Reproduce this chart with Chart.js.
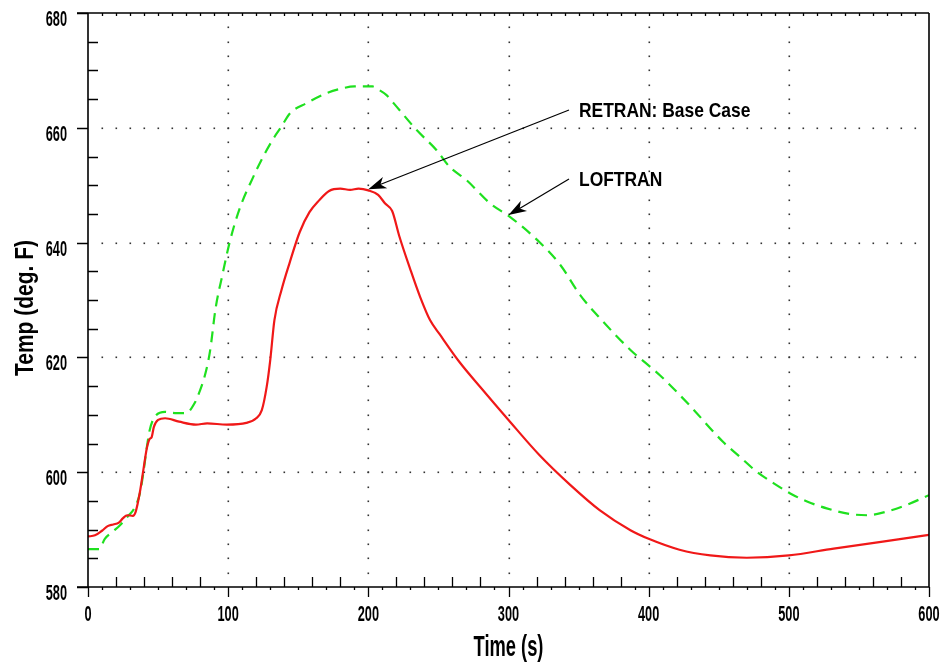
<!DOCTYPE html>
<html lang="en">
<head>
    <meta charset="UTF-8">
    <title>Temp vs Time - RETRAN / LOFTRAN</title>
    <script src="https://cdn.jsdelivr.net/npm/chart.js@4.4.0/dist/chart.umd.min.js"></script>
    <style>
        html, body { margin: 0; padding: 0; background: #fff; }
        #wrap { position: relative; width: 945px; height: 671px; }
    </style>
</head>
<body>
    <div id="wrap"><canvas id="tempChart"></canvas></div>

    <script>
        // Curve data (time in s, temperature in deg F)
        const retranTime = [0, 5, 10, 14, 18, 22, 25, 28, 32, 34, 37, 39.5, 42, 44, 45.4, 47, 50, 55, 65, 77, 85, 99, 113, 120, 124, 127.5, 130, 133, 138, 144, 151, 158, 165, 172, 180, 187, 193, 200, 207, 212, 217, 222, 230, 237, 244, 251, 265, 280, 300, 322, 344, 365, 387, 400, 422, 444, 470, 500, 532, 567, 600];
        const retranTemp = [588.8, 589.0, 589.8, 590.6, 590.9, 591.2, 592.0, 592.5, 592.4, 593.1, 596.5, 600.4, 604.2, 605.8, 606.1, 607.9, 609.1, 609.4, 608.8, 608.3, 608.5, 608.3, 608.6, 609.4, 610.8, 614.9, 619.5, 626.5, 631.7, 636.6, 641.8, 645.3, 647.4, 649.0, 649.4, 649.2, 649.4, 649.1, 648.3, 646.8, 645.5, 641.2, 635.3, 630.5, 626.5, 624.0, 619.2, 614.8, 609.1, 603.0, 597.8, 593.4, 589.9, 588.4, 586.5, 585.5, 585.1, 585.5, 586.7, 587.9, 589.1];

        const loftranTime = [0, 8, 12, 18, 23, 28, 33, 37, 39.5, 42, 44, 47, 55, 62, 70, 76, 80, 83, 87, 91, 96, 101, 108, 118, 125, 133, 138, 144, 156, 170, 182, 190, 203, 207, 213, 218, 234.5, 248.7, 258, 270, 287, 301, 322, 337, 351, 365, 387, 408, 429, 453, 465, 477, 489, 501, 513, 527, 544, 556, 572, 584, 600];
        const loftranTemp = [586.6, 586.6, 588.4, 589.7, 590.8, 592.2, 593.7, 596.3, 599.9, 604.4, 607.3, 609.4, 610.5, 610.3, 610.3, 612.0, 614.3, 616.5, 621.0, 628.5, 634.5, 640.0, 645.8, 651.5, 655.0, 658.4, 660.2, 662.5, 664.3, 666.0, 666.9, 667.2, 667.2, 666.7, 665.7, 664.3, 659.6, 656.1, 653.2, 650.9, 646.8, 644.5, 640.1, 636.1, 630.9, 626.9, 621.3, 616.9, 611.7, 605.3, 602.7, 600.1, 598.1, 596.3, 594.9, 593.7, 592.7, 592.5, 593.3, 594.3, 596.0];

        // Axis ticks
        const xTicks = [0, 100, 200, 300, 400, 500, 600];
        const yTicks = [580, 600, 620, 640, 660, 680];

        // Annotations: label text and the point each arrow lands on
        const notes = [
            { text: 'RETRAN: Base Case', at: [200, 649.3], labelY: 117 },
            { text: 'LOFTRAN', at: [300, 644.8], labelY: 186 }
        ];

        const toPoints = (xs, ys) => xs.map((x, i) => ({ x: x, y: ys[i] }));

        function drawText(ctx, txt, x, y, size, squeeze, align) {
            ctx.save();
            ctx.translate(x, y);
            ctx.scale(squeeze, 1);
            ctx.font = 'bold ' + size + 'px "Liberation Sans", Arial, sans-serif';
            ctx.textAlign = align;
            ctx.textBaseline = 'alphabetic';
            ctx.fillStyle = '#000';
            ctx.fillText(txt, 0, 0);
            ctx.restore();
        }

        function arrow(ctx, x0, y0, x1, y1) {
            const ang = Math.atan2(y1 - y0, x1 - x0);
            const len = 18, half = 6;
            ctx.save();
            ctx.strokeStyle = '#000';
            ctx.fillStyle = '#000';
            ctx.lineWidth = 1.2;
            ctx.beginPath();
            ctx.moveTo(x0, y0);
            ctx.lineTo(x1 - Math.cos(ang) * 10, y1 - Math.sin(ang) * 10);
            ctx.stroke();
            ctx.translate(x1, y1);
            ctx.rotate(ang);
            ctx.beginPath();
            ctx.moveTo(0, 0);
            ctx.lineTo(-len, -half);
            ctx.lineTo(-len + 5, 0);
            ctx.lineTo(-len, half);
            ctx.closePath();
            ctx.fill();
            ctx.restore();
        }

        // Dotted grid under the curves
        const gridPlugin = {
            id: 'dotGrid',
            beforeDatasetsDraw(chart) {
                const { ctx, scales: { x, y } } = chart;
                ctx.save();
                ctx.fillStyle = '#333';
                for (let i = 1; i < xTicks.length - 1; i++) {
                    const px = Math.round(x.getPixelForValue(xTicks[i]));
                    for (let v = 582.5; v < 680; v += 2.5) {
                        ctx.fillRect(px - 0.5, Math.round(y.getPixelForValue(v)) - 0.5, 1.6, 1.6);
                    }
                }
                for (let j = 1; j < yTicks.length - 1; j++) {
                    const py = Math.round(y.getPixelForValue(yTicks[j]));
                    for (let t = 10; t < 600; t += 10) {
                        ctx.fillRect(Math.round(x.getPixelForValue(t)) - 0.5, py - 0.5, 1.6, 1.6);
                    }
                }
                ctx.restore();
            }
        };

        // Frame, ticks, labels, titles and annotations on top
        const framePlugin = {
            id: 'frame',
            afterDraw(chart) {
                const { ctx, chartArea: a, scales: { x, y } } = chart;
                ctx.save();
                ctx.strokeStyle = '#000';
                ctx.lineWidth = 1.6;
                ctx.beginPath();
                ctx.moveTo(a.left - 11, a.top); ctx.lineTo(a.right, a.top);
                ctx.moveTo(a.left - 11, a.bottom); ctx.lineTo(a.right, a.bottom);
                ctx.moveTo(a.left, a.top); ctx.lineTo(a.left, a.bottom);
                ctx.moveTo(a.right, a.top); ctx.lineTo(a.right, a.bottom);
                ctx.stroke();

                // y ticks: major outward, minor inward every 5
                ctx.lineWidth = 1.3;
                ctx.beginPath();
                for (let v = 580; v <= 680; v += 5) {
                    const py = Math.round(y.getPixelForValue(v)) + 0.5;
                    if (v % 20 === 0) { ctx.moveTo(a.left - 11, py); ctx.lineTo(a.left, py); }
                    else { ctx.moveTo(a.left, py); ctx.lineTo(a.left + 10, py); }
                }
                // x ticks: major downward, minor up every 20, small every 10
                for (let t = 0; t <= 600; t += 10) {
                    const px = Math.round(x.getPixelForValue(t)) + 0.5;
                    if (t % 100 === 0) { ctx.moveTo(px, a.bottom); ctx.lineTo(px, a.bottom + 10); }
                    else if (t % 20 === 0) { ctx.moveTo(px, a.bottom); ctx.lineTo(px, a.bottom - 10); }
                    else { ctx.moveTo(px, a.bottom); ctx.lineTo(px, a.bottom + 3); }
                    if (t > 0 && t < 600) { ctx.moveTo(px, a.top); ctx.lineTo(px, a.top + 3); }
                }
                ctx.stroke();
                ctx.restore();

                yTicks.forEach(v => drawText(ctx, String(v), a.left - 21, y.getPixelForValue(v) + 13, 22, 0.58, 'right'));
                xTicks.forEach(t => drawText(ctx, String(t), x.getPixelForValue(t), a.bottom + 34, 22, 0.58, 'center'));

                drawText(ctx, 'Time (s)', (a.left + a.right) / 2, a.bottom + 69, 30, 0.61, 'center');
                ctx.save();
                ctx.translate(33, 308);
                ctx.rotate(-Math.PI / 2);
                drawText(ctx, 'Temp (deg. F)', 0, 0, 25, 0.84, 'center');
                ctx.restore();

                notes.forEach(n => {
                    drawText(ctx, n.text, 579, n.labelY, 21, 0.83, 'left');
                    arrow(ctx, 569, n.labelY - 7, x.getPixelForValue(n.at[0]), y.getPixelForValue(n.at[1]));
                });
            }
        };

        new Chart(document.getElementById('tempChart'), {
            type: 'line',
            data: {
                datasets: [
                    {
                        label: 'RETRAN: Base Case',
                        data: toPoints(retranTime, retranTemp),
                        borderColor: '#f01818',
                        borderWidth: 2.2,
                        pointRadius: 0,
                        cubicInterpolationMode: 'monotone'
                    },
                    {
                        label: 'LOFTRAN',
                        data: toPoints(loftranTime, loftranTemp),
                        borderColor: '#1fe01f',
                        borderWidth: 2.2,
                        borderDash: [11, 7],
                        pointRadius: 0,
                        cubicInterpolationMode: 'monotone'
                    }
                ]
            },
            options: {
                responsive: true,
                maintainAspectRatio: false,
                animation: false,
                layout: { padding: { left: 88, right: 16, top: 13, bottom: 84 } },
                plugins: { legend: { display: false }, tooltip: { enabled: false } },
                scales: {
                    x: { type: 'linear', min: 0, max: 600, display: false },
                    y: { type: 'linear', min: 580, max: 680, display: false }
                }
            },
            plugins: [gridPlugin, framePlugin]
        });
    </script>
</body>
</html>
